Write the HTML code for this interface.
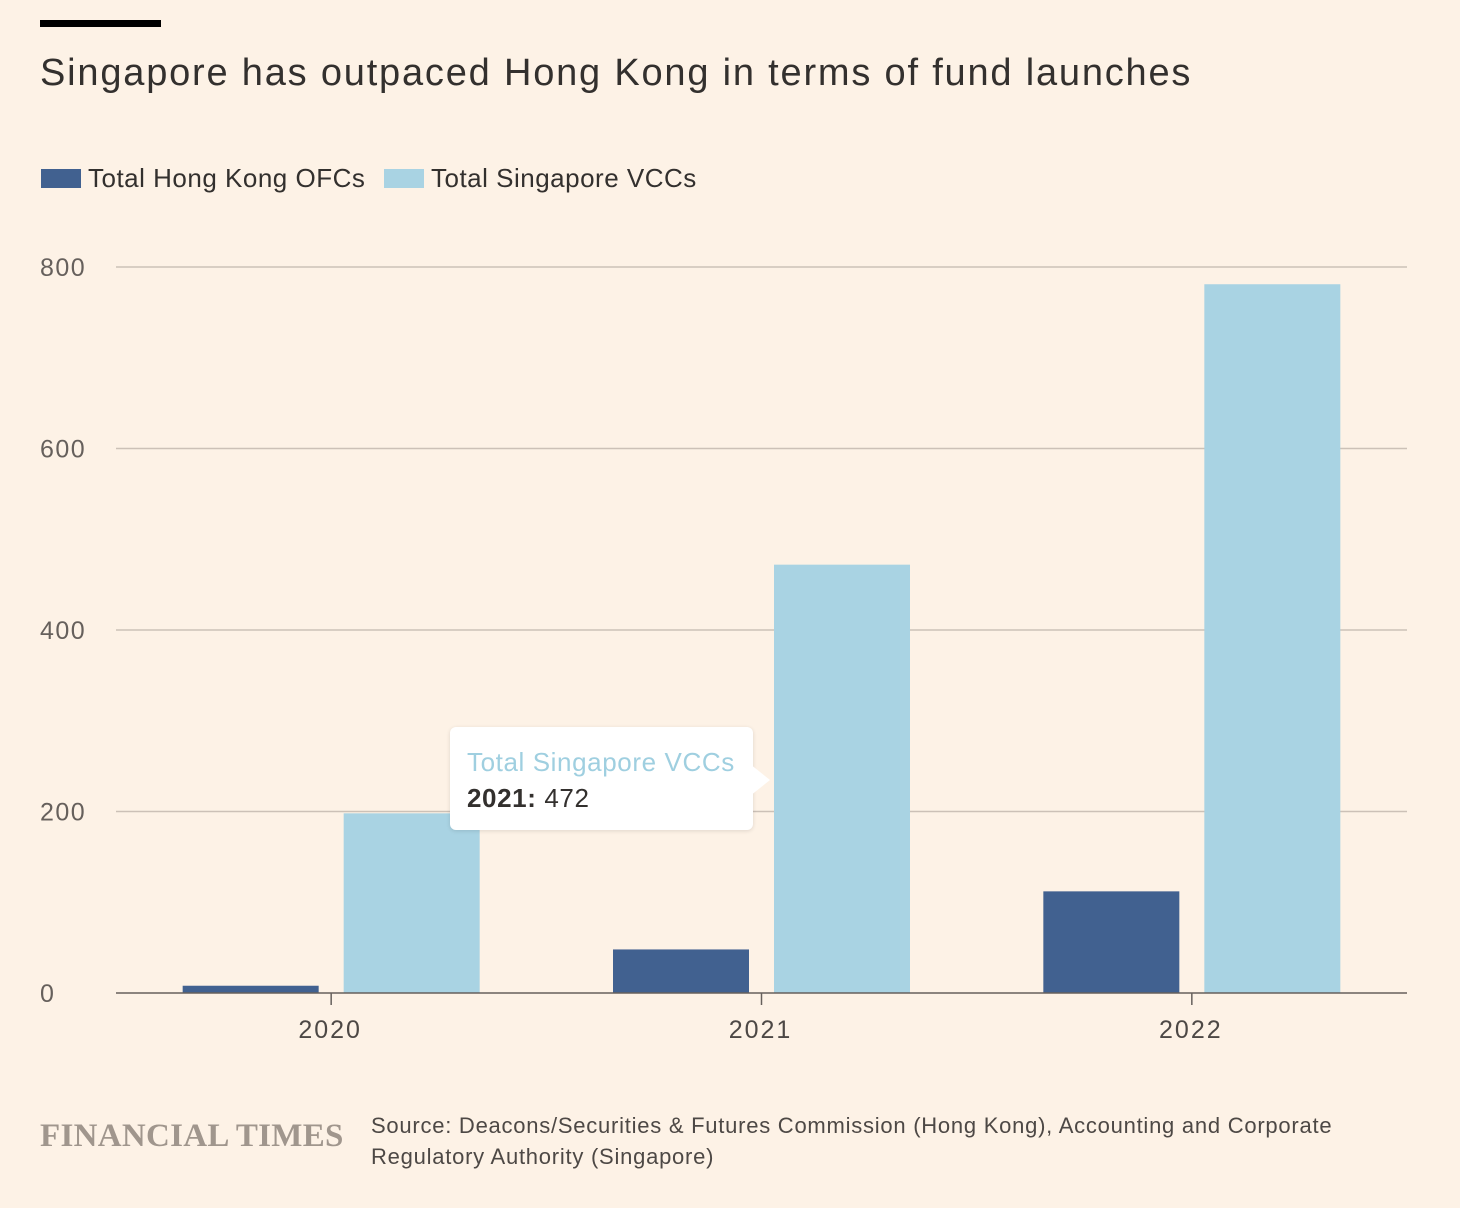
<!DOCTYPE html>
<html><head><meta charset="utf-8"><style>
body{margin:0;background:#fdf2e6;font-family:"Liberation Sans",sans-serif;}
#root{position:relative;width:1460px;height:1208px;background:#fdf2e6;overflow:hidden;}
.t{position:absolute;white-space:nowrap;}
</style></head><body>
<div id="root">
<div style="position:absolute;left:40px;top:20px;width:121px;height:7px;background:#000"></div>
<div class="t" style="left:40px;top:52px;font-size:38px;letter-spacing:1.8px;color:#33302e">Singapore has outpaced Hong Kong in terms of fund launches</div>
<div style="position:absolute;left:41px;top:169px;width:40px;height:19px;background:#416190"></div>
<div class="t" style="left:88px;top:163px;font-size:26px;letter-spacing:0.5px;color:#33302e">Total Hong Kong OFCs</div>
<div style="position:absolute;left:384px;top:169px;width:40px;height:19px;background:#a9d3e3"></div>
<div class="t" style="left:431px;top:163px;font-size:26px;letter-spacing:0.5px;color:#33302e">Total Singapore VCCs</div>
<svg id="chart" width="1460" height="1208" style="position:absolute;left:0;top:0"></svg>
<div style="position:absolute;left:450px;top:727px;width:303px;height:103px;background:#fff;border-radius:6px;box-shadow:0 1px 4px rgba(0,0,0,0.12)">
<div style="position:absolute;left:300px;top:37px;width:0;height:0;border-top:16px solid transparent;border-bottom:16px solid transparent;border-left:20px solid #fff"></div>
<div class="t" style="left:17px;top:20px;font-size:26px;letter-spacing:0.6px;color:#9fcfe0">Total Singapore VCCs</div>
<div class="t" style="left:17px;top:56px;font-size:26px;letter-spacing:0.6px;color:#33302e"><b>2021:</b> 472</div>
</div>
<div class="t" style="left:40px;top:1118px;font-family:'Liberation Serif',serif;font-size:33px;color:#a0968d;letter-spacing:0.3px;font-weight:bold">FINANCIAL TIMES</div>
<div class="t" style="left:371px;top:1110px;font-size:22px;letter-spacing:0.75px;line-height:31px;color:#4d4845">Source: Deacons/Securities &amp; Futures Commission (Hong Kong), Accounting and Corporate<br>Regulatory Authority (Singapore)</div>
</div>
<script>
const categories=["2020","2021","2022"];
const hkValues=[8,48,112];
const sgValues=[198,472,781];
const yTicks=[0,200,400,600,800];
const NS="http://www.w3.org/2000/svg";
const svg=document.getElementById('chart');
const x0=116,x1=1407,yTop=267,yBot=993,yMax=800;
const y=v=>yBot-(v/yMax)*(yBot-yTop);
const band=(x1-x0)/categories.length;
const cx=i=>x0+band*(i+0.5);
const bw=136,gap=25;
function mk(tag,attrs){const e=document.createElementNS(NS,tag);for(const k in attrs)e.setAttribute(k,attrs[k]);svg.appendChild(e);return e;}
yTicks.forEach(t=>{
  if(t!==0){const l=mk('line',{x1:x0,x2:x1,y1:y(t),y2:y(t),stroke:'#ccc1b7','stroke-width':1.5});
  
  }
  const tx=mk('text',{x:40,y:y(t)+9,'font-size':25,'letter-spacing':1.5,fill:'#66605c','font-family':'Liberation Sans, sans-serif'});
  tx.textContent=t;
  
  
});
categories.forEach((c,i)=>{
  const h=mk('rect',{x:cx(i)-gap/2-bw,y:y(hkValues[i]),width:bw,height:yBot-y(hkValues[i]),fill:'#416190'});
  
  
  const s=mk('rect',{x:cx(i)+gap/2,y:y(sgValues[i]),width:bw,height:yBot-y(sgValues[i]),fill:'#a9d3e3'});
  
  
  const tk=mk('line',{x1:cx(i),x2:cx(i),y1:yBot,y2:yBot+12,stroke:'#66605c','stroke-width':1.5});
  
  
  const tx=mk('text',{x:cx(i)-1,y:yBot+45,'font-size':25,'letter-spacing':2,fill:'#4d4845','text-anchor':'middle','font-family':'Liberation Sans, sans-serif'});
  tx.textContent=c;
  
  
});
const ax=mk('line',{x1:x0,x2:x1,y1:yBot,y2:yBot,stroke:'#66605c','stroke-width':1.5});


</script>
</body></html>
